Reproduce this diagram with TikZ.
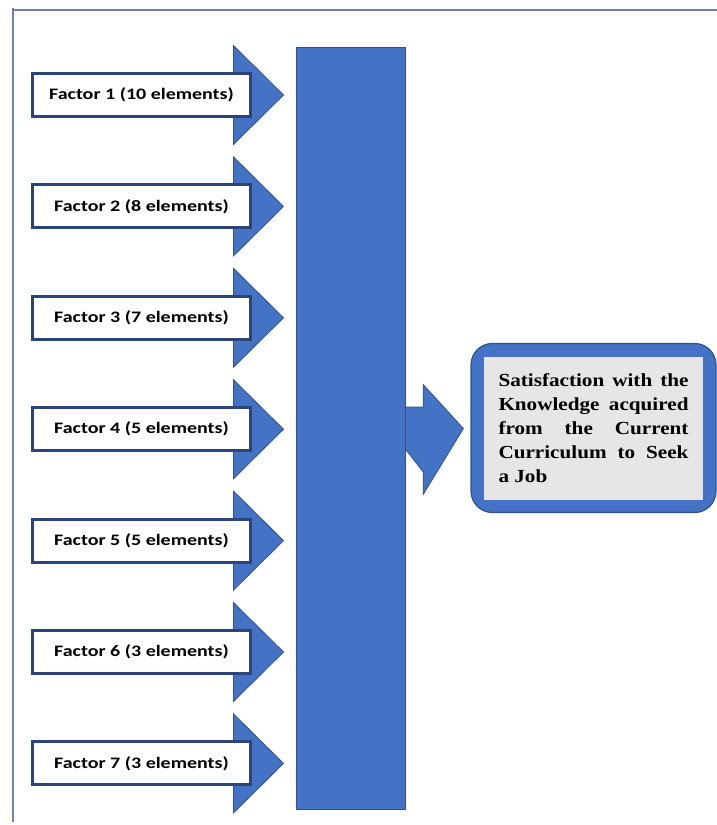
\documentclass[tikz,border=0pt]{standalone}
\usepackage{fontspec}
\setmainfont{Liberation Serif}
\newfontfamily\calibrifont[FakeStretch=1.25]{Carlito}
\newfontfamily\goalfont[FakeStretch=1.15]{Liberation Serif}
\usepackage{tikz}
\usetikzlibrary{positioning,calc,backgrounds}
\definecolor{office}{RGB}{68,114,196}
\definecolor{officedark}{RGB}{47,82,143}
\definecolor{boxline}{RGB}{44,68,120}
\definecolor{frameline}{RGB}{112,128,168}
\definecolor{panel}{RGB}{231,230,230}

\begin{document}
\begin{tikzpicture}[x=0.75pt,y=-0.75pt,
  fbox/.style={draw=boxline,line width=2.25pt,fill=white,inner sep=0pt,minimum width=163.5pt,minimum height=32.25pt,font=\calibrifont\bfseries\fontsize{12}{14}\selectfont},
  fhead/.style={fill=office,draw=officedark,line width=0.6pt},
  hub/.style={fill=office,draw=officedark,line width=0.75pt,minimum width=82pt,minimum height=572pt},
  goal/.style={fill=office,draw=officedark,line width=0.9pt,rounded corners=16pt,minimum width=183.75pt,minimum height=126.75pt},
  goaltxt/.style={fill=panel,inner sep=0pt,minimum width=164.25pt,minimum height=107.25pt,text width=142.5pt,align=justify,font=\goalfont\bfseries\fontsize{13.8}{18}\selectfont}
]
\useasboundingbox (0,0) rectangle (717,825);
% Frame
\draw[frameline,line width=0.8pt] (12,10) -- (717,10);
\draw[frameline,line width=0.8pt] (13,8) -- (13,822);

% Factors
\node[fbox] (f1) at (141.5,95)    {Factor 1 (10 elements)};
\node[fbox] (f2) at (141.5,206.4) {Factor 2 (8 elements)};
\node[fbox] (f3) at (141.5,317.8) {Factor 3 (7 elements)};
\node[fbox] (f4) at (141.5,429.2) {Factor 4 (5 elements)};
\node[fbox] (f5) at (141.5,540.6) {Factor 5 (5 elements)};
\node[fbox] (f6) at (141.5,652)   {Factor 6 (3 elements)};
\node[fbox] (f7) at (141.5,763.4) {Factor 7 (3 elements)};

% Collector bar and outcome
\node[hub]  (hub)  at (351,428.5) {};
\node[goal] (goal) at (593.5,428) {};
\node[goaltxt] (goaltext) at (goal.center) {Satisfaction with the\linebreak Knowledge acquired\linebreak from the Current\linebreak Curriculum to Seek\linebreak a Job};

% Arrow heads
\begin{scope}[on background layer]
\fill[fhead] ($(f1.east)+(-18.5,-49.5)$) -- ($(f1.east)+(31.5,0)$) -- ($(f1.east)+(-18.5,49.5)$) -- cycle;
\fill[fhead] ($(f2.east)+(-18.5,-49.5)$) -- ($(f2.east)+(31.5,0)$) -- ($(f2.east)+(-18.5,49.5)$) -- cycle;
\fill[fhead] ($(f3.east)+(-18.5,-49.5)$) -- ($(f3.east)+(31.5,0)$) -- ($(f3.east)+(-18.5,49.5)$) -- cycle;
\fill[fhead] ($(f4.east)+(-18.5,-49.5)$) -- ($(f4.east)+(31.5,0)$) -- ($(f4.east)+(-18.5,49.5)$) -- cycle;
\fill[fhead] ($(f5.east)+(-18.5,-49.5)$) -- ($(f5.east)+(31.5,0)$) -- ($(f5.east)+(-18.5,49.5)$) -- cycle;
\fill[fhead] ($(f6.east)+(-18.5,-49.5)$) -- ($(f6.east)+(31.5,0)$) -- ($(f6.east)+(-18.5,49.5)$) -- cycle;
\fill[fhead] ($(f7.east)+(-18.5,-49.5)$) -- ($(f7.east)+(31.5,0)$) -- ($(f7.east)+(-18.5,49.5)$) -- cycle;
\end{scope}

% Hub to outcome
\filldraw[fhead] ($(hub.east)+(0,-21.5)$) -- ++(17,0) -- ++(0,-22.5)
  -- ($(goal.west)+(-7,0.5)$) -- ($(hub.east)+(17,66)$) -- ++(0,-22.5) -- ($(hub.east)+(0,21.5)$);
\end{tikzpicture}
\end{document}
